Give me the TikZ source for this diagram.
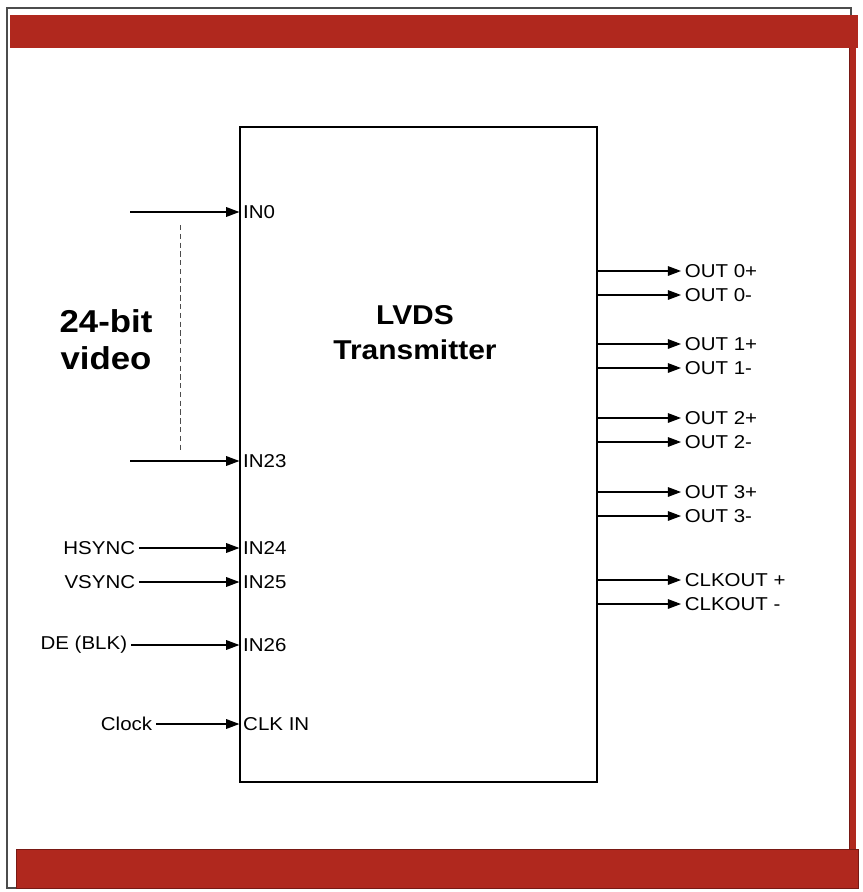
\documentclass[tikz,border=0pt]{standalone}
\usepackage{fontspec}
\setmainfont{Liberation Sans}[FakeStretch=1.1]
\usetikzlibrary{arrows.meta}
\definecolor{barred}{RGB}{176,40,30}
\definecolor{bardark}{RGB}{120,25,20}
\tikzset{
  sig/.style={line width=0.6pt,-{Triangle[length=7.5pt,width=5.5pt]}},
  pin/.style={font=\fontsize{10.6}{12}\selectfont,inner xsep=2pt,inner ysep=1pt},
  src/.style={font=\fontsize{10.6}{12}\selectfont,inner xsep=2pt,inner ysep=1pt,anchor=east},
}
\begin{document}
\begin{tikzpicture}[x=0.02cm,y=-0.02cm]
	\useasboundingbox (0,0) rectangle (862,892);
	% Rahmen und rote Balken
	\draw[black!70,line width=0.6pt] (7,8) rectangle (851,888);
	\fill[barred] (10,15) rectangle (858,48);
	\fill[barred] (849,48) rectangle (856,850);
	\draw[bardark,line width=0.5pt] (849,48) -- (849,850);
	\fill[barred,draw=bardark,line width=0.5pt] (16,849) rectangle (858,888);

	% Baustein
	\node[draw,line width=0.75pt,minimum width=7.14cm,minimum height=13.1cm] (tx) at (418.5,454.5) {};
	\node[font=\bfseries\fontsize{15.5}{20}\selectfont,align=center] (title) at (415,333) {LVDS\\Transmitter};

	% Eingaenge
	\node[pin,anchor=west] (in0) at (tx.west |- 0,212) {IN0};
	\node[pin,anchor=west] (in23) at (tx.west |- 0,461) {IN23};
	\node[pin,anchor=west] (in24) at (tx.west |- 0,548) {IN24};
	\node[pin,anchor=west] (in25) at (tx.west |- 0,582) {IN25};
	\node[pin,anchor=west] (in26) at (tx.west |- 0,645) {IN26};
	\node[pin,anchor=west] (clkin) at (tx.west |- 0,724) {CLK IN};

	\coordinate (vid0) at (130,212);
	\coordinate (vid23) at (130,461);
	\coordinate (dottop) at (180,225);
	\coordinate (dotbot) at (180,450);
	\node[font=\bfseries\fontsize{18}{21}\selectfont,align=center] (video) at (106,340) {24-bit\\video};
	\node[src] (hsync) at (139,548) {HSYNC};
	\node[src] (vsync) at (139,582) {VSYNC};
	\node[src] (de) at (131,645) {DE (BLK)};
	\node[src] (clock) at (156,724) {Clock};

	\draw[sig] (vid0) -- (in0.west);
	\draw[sig] (vid23) -- (in23.west);
	\draw[black!70,dash pattern=on 3pt off 2pt,line width=0.5pt] (dottop) -- (dotbot);
	\draw[sig] (hsync.east) -- (in24.west);
	\draw[sig] (vsync.east) -- (in25.west);
	\draw[sig] (de.east) -- (in26.west);
	\draw[sig] (clock.east) -- (clkin.west);

	% Ausgaenge
	\foreach \y/\n/\t in {271/o0p/OUT 0+, 295/o0m/OUT 0-, 344/o1p/OUT 1+, 368/o1m/OUT 1-,
	                      418/o2p/OUT 2+, 442/o2m/OUT 2-, 492/o3p/OUT 3+, 516/o3m/OUT 3-,
	                      580/ckp/CLKOUT +, 604/ckm/CLKOUT -}{
		\node[pin,anchor=west] (\n) at (681,\y) {\t};
		\draw[sig] (tx.east |- \n) -- (\n.west);
	}
\end{tikzpicture}
\end{document}
